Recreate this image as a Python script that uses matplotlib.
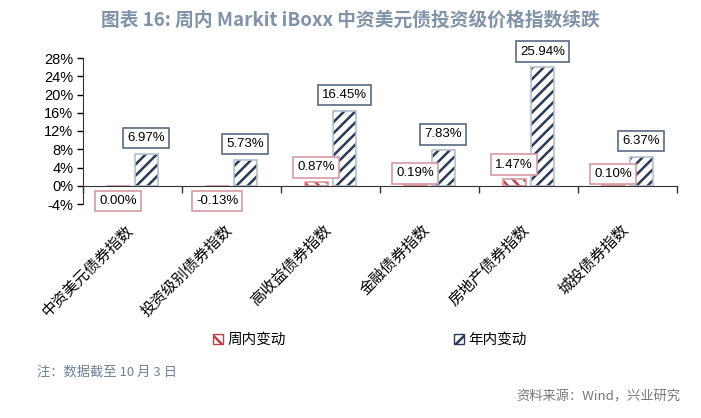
import matplotlib.pyplot as plt
import matplotlib.transforms as mtransforms
from matplotlib.patches import Patch
import numpy as np

# data
categories = ['中资美元债券指数', '投资级别债券指数', '高收益债券指数', '金融债券指数', '房地产债券指数', '城投债券指数']
weekly = [0.00, -0.13, 0.87, 0.19, 1.47, 0.10]
yearly = [6.97, 5.73, 16.45, 7.83, 25.94, 6.37]
yticks = [-4, 0, 4, 8, 12, 16, 20, 24, 28]

cjk = ['Noto Sans CJK SC', 'DejaVu Sans']
plt.rcParams['font.family'] = cjk
plt.rcParams['hatch.linewidth'] = 1.8

red_hatch = '#c0404c'
red_edge = '#d89aa2'
navy_hatch = '#2a3a58'
navy_edge = '#b4c0d0'

fig = plt.figure(figsize=(7.01, 4.18), dpi=100)
ax = fig.add_axes([83/701, 1-204/418, (677-83)/701, 146/418])

x = np.arange(len(categories))
w = 0.23
xw = x - 0.145
xy = x + 0.14

# hatched fill, then a separate outline
ax.bar(xw, weekly, w, color='white', edgecolor=red_hatch, hatch='\\\\\\', linewidth=0)
ax.bar(xw, weekly, w, fill=False, edgecolor=red_edge, linewidth=1.2)
ax.bar(xy, yearly, w, color='white', edgecolor=navy_hatch, hatch='///', linewidth=0)
ax.bar(xy, yearly, w, fill=False, edgecolor=navy_edge, linewidth=1.2)

ax.set_xlim(-0.5, len(categories) - 0.5)
ax.set_ylim(-4, 28)
ax.set_yticks(yticks)
ax.set_yticklabels([f'{t}%' for t in yticks], family=['Liberation Sans'], fontsize=10.5)
ax.tick_params(axis='y', direction='out', length=4, width=1, pad=3)

ax.spines['top'].set_visible(False)
ax.spines['right'].set_visible(False)
ax.spines['left'].set_color('#333333')
ax.spines['bottom'].set_position(('data', 0))
ax.spines['bottom'].set_color('#333333')
ax.set_xticks(np.arange(len(categories) + 1) - 0.5)
ax.set_xticklabels([])
ax.tick_params(axis='x', direction='out', length=5, width=1, color='#333333')

# value labels
lbl = dict(fontsize=9.5, family=['Liberation Sans'])
for xi, v in zip(xw, weekly):
    box = dict(boxstyle='square,pad=0.32', fc='white', ec=red_edge, lw=1.2)
    if v > 0.5:
        ax.annotate(f'{v:.2f}%', (xi, v), xytext=(0, 6), textcoords='offset points',
                    ha='center', va='bottom', bbox=box, **lbl)
    elif v > 0:
        ax.annotate(f'{v:.2f}%', (xi, v), xytext=(0, 4), textcoords='offset points',
                    ha='center', va='bottom', bbox=box, **lbl)
    else:
        ax.annotate(f'{v:.2f}%', (xi, 0), xytext=(0, -11), textcoords='offset points',
                    ha='center', va='center', bbox=box, **lbl)
for xi, v in zip(xy, yearly):
    ax.annotate(f'{v:.2f}%', (xi, v), xytext=(0, 7), textcoords='offset points',
                ha='center', va='bottom',
                bbox=dict(boxstyle='square,pad=0.32', fc='white', ec='#5a6a84', lw=1.2), **lbl)

# category names, rotated
trans = mtransforms.blended_transform_factory(ax.transData, ax.transAxes)
for xi, name in zip(x, categories):
    ax.text(xi - 0.08, -0.12, name, transform=trans, rotation=45, rotation_mode='anchor',
            ha='right', va='top', fontsize=11)

handles = [Patch(facecolor='white', edgecolor=red_hatch, hatch='\\\\\\', linewidth=1),
           Patch(facecolor='white', edgecolor=navy_hatch, hatch='///', linewidth=1)]
fig.legend(handles, ['周内变动', '年内变动'], loc='center', bbox_to_anchor=(370/701, 1-340/418),
           ncol=2, frameon=False, fontsize=10.5, handlelength=0.7, handleheight=0.7,
           handletextpad=0.3, columnspacing=11.5)

fig.text(350/701, 1-20/418, '图表 16: 周内 Markit iBoxx 中资美元债投资级价格指数续跌',
         ha='center', va='center', fontsize=13.5, fontweight='bold', color='#8193a8')
fig.text(37/701, 1-372/418, '注：数据截至 10 月 3 日', ha='left', va='center',
         fontsize=9.5, color='#6f8195')
fig.text(680/701, 1-397/418, '资料来源：Wind，兴业研究', ha='right', va='center',
         fontsize=9.5, color='#777777')

fig.savefig('out.png', dpi=100)
